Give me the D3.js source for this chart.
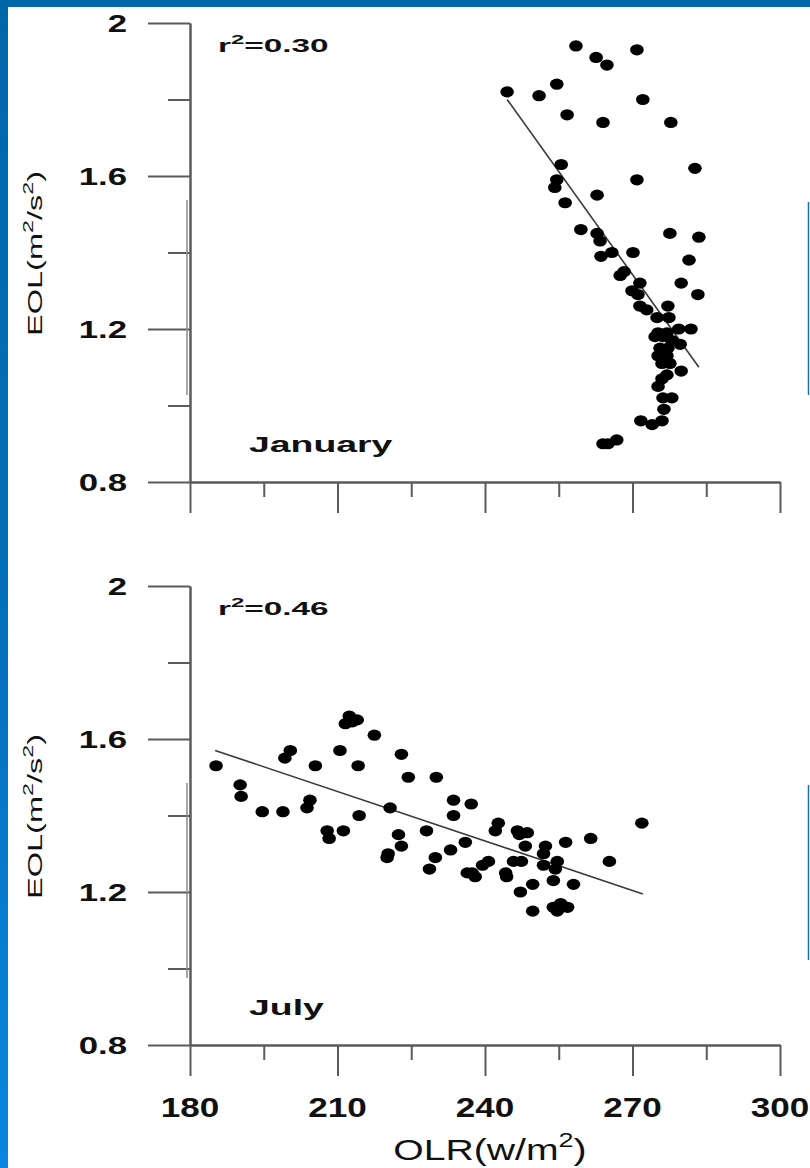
<!DOCTYPE html>
<html>
<head>
<meta charset="utf-8">
<script src="https://cdn.jsdelivr.net/npm/d3@7"></script>
<style>
  body { margin: 0; background: #fff; }
  svg { display: block; }
  text { font-family: "Liberation Sans", Arial, sans-serif; fill: #111; }
</style>
</head>
<body>
<svg id="vis-svg"></svg>
<script>
// January: OLR (w/m2) vs EOL (m2/s2)
const janOLR = [258.5, 262.6, 264.8, 270.9, 254.6, 251.0, 244.5, 272.1, 256.7, 264.0,
    277.8, 255.5, 282.7, 254.6, 270.9, 254.2, 262.8, 256.3, 259.5, 262.8,
    263.4, 265.8, 263.6, 270.1, 277.6, 283.5, 281.5, 267.5, 268.3, 271.5,
    269.9, 271.1, 279.9, 283.3, 271.5, 272.9, 275.0, 277.2, 277.4, 275.2,
    277.0, 279.4, 281.9, 274.6, 276.2, 278.0, 279.7, 275.6, 277.2, 275.2,
    277.0, 276.0, 277.6, 279.9, 277.0, 276.0, 275.2, 276.2, 278.0, 276.4,
    271.7, 274.0, 276.0, 264.0, 266.8, 265.0];
const janEOL = [1.94, 1.91, 1.89, 1.93, 1.84, 1.81, 1.82, 1.80, 1.76, 1.74,
    1.74, 1.63, 1.62, 1.59, 1.59, 1.57, 1.55, 1.53, 1.46, 1.45,
    1.43, 1.40, 1.39, 1.40, 1.45, 1.44, 1.38, 1.34, 1.35, 1.32,
    1.30, 1.29, 1.32, 1.29, 1.26, 1.25, 1.23, 1.26, 1.23, 1.19,
    1.19, 1.20, 1.20, 1.18, 1.18, 1.17, 1.16, 1.15, 1.15, 1.13,
    1.13, 1.11, 1.11, 1.09, 1.08, 1.07, 1.05, 1.02, 1.02, 0.99,
    0.96, 0.95, 0.96, 0.90, 0.91, 0.90];

// July
const julOLR = [212.4, 214.0, 211.6, 213.0, 217.5, 200.4, 199.3, 210.5, 223.0, 185.3,
    205.5, 214.2, 224.4, 230.1, 190.2, 190.4, 204.4, 203.8, 194.7, 198.9,
    220.7, 214.4, 233.6, 237.2, 233.6, 207.9, 211.2, 208.3, 222.4, 223.0,
    220.3, 220.1, 228.1, 229.9, 228.7, 242.7, 242.1, 246.6, 248.6, 247.0,
    248.2, 252.3, 256.4, 261.5, 271.9, 236.0, 233.0, 240.7, 239.5, 237.4,
    238.0, 236.4, 244.2, 244.4, 245.8, 247.4, 251.9, 251.9, 254.7, 254.3,
    265.3, 253.9, 258.0, 249.7, 247.2, 249.7, 253.9, 255.4, 256.8, 254.7];
const julEOL = [1.66, 1.65, 1.64, 1.645, 1.61, 1.57, 1.55, 1.57, 1.56, 1.53,
    1.53, 1.53, 1.50, 1.50, 1.48, 1.45, 1.44, 1.42, 1.41, 1.41,
    1.42, 1.40, 1.44, 1.43, 1.40, 1.36, 1.36, 1.34, 1.35, 1.32,
    1.30, 1.29, 1.36, 1.29, 1.26, 1.38, 1.36, 1.36, 1.355, 1.35,
    1.32, 1.32, 1.33, 1.34, 1.38, 1.33, 1.31, 1.28, 1.27, 1.25,
    1.24, 1.25, 1.25, 1.24, 1.28, 1.28, 1.30, 1.27, 1.28, 1.26,
    1.28, 1.23, 1.22, 1.22, 1.20, 1.15, 1.16, 1.17, 1.16, 1.15];

// regression line end points
const janFitOLR = [244.5, 283.5];
const janFitEOL = [1.80, 1.10];
const julFitOLR = [185.1, 272.1];
const julFitEOL = [1.57, 1.195];

const xMajorTicks = [180, 210, 240, 270, 300];
const xMinorTicks = [195, 225, 255, 285];
const yMajorTicks = [0.8, 1.2, 1.6, 2];
const yMinorTicks = [1.0, 1.4, 1.8];

const W = 810, H = 1168;
const axisColor = "#5b5b5b";

const svg = d3.select("#vis-svg")
    .attr("width", W)
    .attr("height", H);

// blue slide frame (top and left)
const grad = svg.append("defs").append("linearGradient")
    .attr("id", "frame")
    .attr("x1", 0).attr("y1", 0).attr("x2", 0).attr("y2", 1);
grad.append("stop").attr("offset", "0%").attr("stop-color", "#0266aa");
grad.append("stop").attr("offset", "55%").attr("stop-color", "#0570bc");
grad.append("stop").attr("offset", "100%").attr("stop-color", "#0a86e0");
svg.append("rect").attr("width", W).attr("height", H).attr("fill", "#fff");
svg.append("rect").attr("width", W).attr("height", 7).attr("fill", "#0267ab");
svg.append("rect").attr("width", 8).attr("height", H).attr("fill", "url(#frame)");

// text helper: parts = [[string, superscript?], ...], stretched along baseline
function label(parent, parts, o) {
    const t = parent.append("text")
        .attr("transform", "translate(" + o.x + "," + o.y + ")" +
            (o.rotate ? " rotate(" + o.rotate + ")" : "") +
            " scale(" + o.sx + ",1)")
        .attr("text-anchor", o.anchor || "start")
        .style("font-size", o.size + "px")
        .style("font-weight", o.weight || "normal");
    let up = false;
    parts.forEach(function (p) {
        const sup = p[1] === true;
        const s = t.append("tspan").text(p[0]);
        if (sup) s.style("font-size", Math.round(o.size * 0.7) + "px");
        if (sup && !up) s.attr("dy", -o.size * 0.45);
        if (!sup && up) s.attr("dy", o.size * 0.45);
        up = sup;
    });
    return t;
}

function panel(top, olr, eol, fitOLR, fitEOL, r2, month, xLabels) {
    const left = 190, width = 590, height = 459;
    const x = d3.scaleLinear().domain([180, 300]).range([0, width]);
    const y = d3.scaleLinear().domain([0.8, 2]).range([height, 0]);

    const g = svg.append("g")
        .attr("transform", "translate(" + left + "," + top + ")");

    // axes: long major ticks, short minor ticks
    const axes = g.append("g").attr("class", "axes");
    axes.append("g")
        .call(d3.axisLeft(y).tickValues(yMajorTicks).tickSize(42).tickSizeOuter(0).tickFormat(""));
    axes.append("g")
        .call(d3.axisLeft(y).tickValues(yMinorTicks).tickSize(22).tickSizeOuter(0).tickFormat(""));
    axes.append("g")
        .attr("transform", "translate(0," + height + ")")
        .call(d3.axisBottom(x).tickValues(xMajorTicks).tickSize(31).tickSizeOuter(0).tickFormat(""));
    axes.append("g")
        .attr("transform", "translate(0," + height + ")")
        .call(d3.axisBottom(x).tickValues(xMinorTicks).tickSize(15).tickSizeOuter(0).tickFormat(""));
    axes.selectAll("path, line")
        .attr("stroke", axisColor)
        .attr("stroke-width", 2);

    // y tick labels
    yMajorTicks.forEach(function (v) {
        label(g, [[v === 2 ? "2" : d3.format(".1f")(v)]], {
            x: -63, y: y(v) + 8.5, sx: 1.45, size: 24, weight: "bold", anchor: "end"
        });
    });

    // y axis title, centred a little above the middle of the axis
    label(g, [["EOL(m"], ["2", true], ["/s"], ["2", true], [")"]], {
        x: 42 - left, y: y(1.4) + 1, rotate: -90, sx: 1.55, size: 21, anchor: "middle"
    });

    // x tick labels and title (bottom panel only)
    if (xLabels) {
        xMajorTicks.forEach(function (v) {
            label(g, [[String(v)]], {
                x: x(v), y: height + 72, sx: 1.3, size: 27, weight: "bold", anchor: "middle"
            });
        });
        label(g, [["OLR(w/m"], ["2", true], [")"]], {
            x: x(240) + 5, y: height + 115, sx: 1.35, size: 29, anchor: "middle"
        });
    }

    label(g, [["r"], ["2", true], ["=" + r2]], {
        x: 218 - left, y: 29, sx: 1.85, size: 18, weight: "bold"
    });
    label(g, [[month]], {
        x: 249 - left, y: height - 30, sx: 1.7, size: 22, weight: "bold"
    });

    // regression line
    g.append("line")
        .attr("x1", x(fitOLR[0])).attr("y1", y(fitEOL[0]))
        .attr("x2", x(fitOLR[1])).attr("y2", y(fitEOL[1]))
        .attr("stroke", "#3a3a3a")
        .attr("stroke-width", 1.6);

    // points
    g.selectAll(".dot")
        .data(d3.range(olr.length))
        .enter().append("ellipse")
        .attr("class", "dot")
        .attr("cx", i => x(olr[i]))
        .attr("cy", i => y(eol[i]))
        .attr("rx", 6.8)
        .attr("ry", 5.6)
        .attr("fill", "#000");
}

panel(23, janOLR, janEOL, janFitOLR, janFitEOL, "0.30", "January", false);
panel(586, julOLR, julEOL, julFitOLR, julFitEOL, "0.46", "July", true);

// pasted-image seams seen on the slide
[[200, 395], [783, 978]].forEach(function (s) {
    svg.append("line")
        .attr("x1", 187).attr("x2", 187).attr("y1", s[0]).attr("y2", s[1])
        .attr("stroke", "#8a8a8a").attr("stroke-width", 1.5);
});
[[202, 395], [785, 960]].forEach(function (s) {
    svg.append("line")
        .attr("x1", 808.5).attr("x2", 808.5).attr("y1", s[0]).attr("y2", s[1])
        .attr("stroke", "#1c6fb0").attr("stroke-width", 1.5);
});
</script>
</body>
</html>
